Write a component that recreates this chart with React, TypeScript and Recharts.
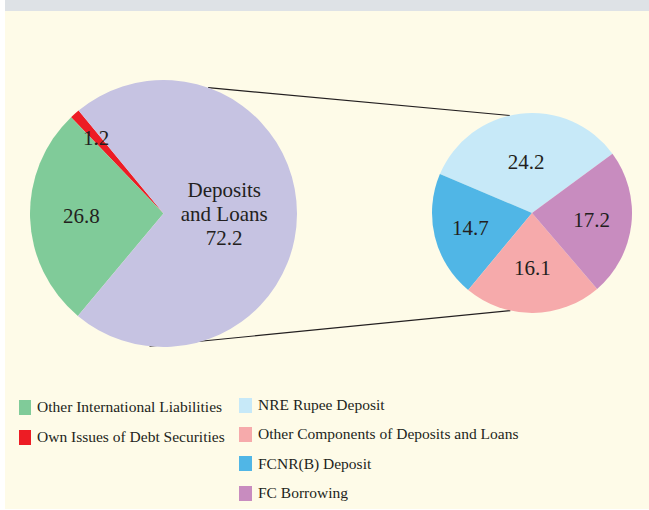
import React from 'react';
import { Cell, Legend, Pie, PieChart } from 'recharts';

// left pie: composition of international liabilities (per cent)
const liabilityNames = [
  'Own Issues of Debt Securities',
  'Other International Liabilities',
  'Deposits and Loans',
];
const liabilityValues = [1.2, 26.8, 72.2];

// right pie: break-up of deposits and loans
const depositNames = [
  'NRE Rupee Deposit',
  'FCNR(B) Deposit',
  'Other Components of Deposits and Loans',
  'FC Borrowing',
];
const depositValues = [24.2, 14.7, 16.1, 17.2];

const leftLegendOrder = ['Other International Liabilities', 'Own Issues of Debt Securities'];
const rightLegendOrder = [
  'NRE Rupee Deposit',
  'Other Components of Deposits and Loans',
  'FCNR(B) Deposit',
  'FC Borrowing',
];

const FONT = '"Liberation Serif", "Times New Roman", serif';
const INK = '#231f20';

const liabilityColors = ['#ed1c24', '#80cb99', '#c6c3e2'];
const depositColors = ['#c7e9f8', '#50b6e6', '#f6aaab', '#c88cbf'];

const colorOf = (name: string) => {
  const i = liabilityNames.indexOf(name);
  if (i >= 0) return liabilityColors[i];
  return depositColors[depositNames.indexOf(name)];
};

const LEFT = { cx: 163.5, cy: 213.5, r: 133.5 };
const RIGHT = { cx: 532, cy: 213, r: 100 };
const RAD = Math.PI / 180;

const liabilityData = liabilityNames.map((name, i) => ({ name, value: liabilityValues[i] }));
const depositData = depositNames.map((name, i) => ({ name, value: depositValues[i] }));

// how far out (fraction of radius) each label sits
const liabilityLabelR = [0.76, 0.615, 0.455];
const depositLabelR = [0.51, 0.635, 0.55, 0.6];

const polar = (c: { cx: number; cy: number; r: number }, angle: number) => ({
  x: c.cx + c.r * Math.cos(-angle * RAD),
  y: c.cy + c.r * Math.sin(-angle * RAD),
});

const makeLabel = (factors: number[]) => (props: any) => {
  const { cx, cy, midAngle, outerRadius, index, name, value } = props;
  const r = outerRadius * factors[index];
  const x = cx + r * Math.cos(-midAngle * RAD);
  const y = cy + r * Math.sin(-midAngle * RAD);
  const common = {
    x,
    fill: INK,
    fontFamily: FONT,
    fontSize: 21,
    textAnchor: 'middle' as const,
    dominantBaseline: 'central' as const,
  };
  if (name === 'Deposits and Loans') {
    return (
      <text {...common} y={y - 24}>
        <tspan x={x} dy={0}>Deposits</tspan>
        <tspan x={x} dy={24}>and Loans</tspan>
        <tspan x={x} dy={24}>{value}</tspan>
      </text>
    );
  }
  return (
    <text {...common} y={y}>
      {value}
    </text>
  );
};

const LegendRow = ({ name, h, sw }: { name: string; h: number; sw: number }) => (
  <div style={{ display: 'flex', alignItems: 'center', height: h }}>
    <span style={{ width: sw, height: 15, background: colorOf(name), marginRight: 6, flex: 'none' }} />
    <span style={{ fontFamily: FONT, fontSize: 15.5, color: INK, whiteSpace: 'nowrap' }}>{name}</span>
  </div>
);

const renderLegend = () => (
  <div style={{ position: 'relative', width: 649, height: 510 }}>
    <div style={{ position: 'absolute', left: 19, top: 392 }}>
      {leftLegendOrder.map((n) => (
        <LegendRow key={n} name={n} h={30} sw={12} />
      ))}
    </div>
    <div style={{ position: 'absolute', left: 239, top: 390.5 }}>
      {rightLegendOrder.map((n) => (
        <LegendRow key={n} name={n} h={29.3} sw={13} />
      ))}
    </div>
  </div>
);

export default function App() {
  const topA = polar(LEFT, 70.5);
  const topB = polar(RIGHT, 102.8);
  const botA = polar(LEFT, 264);
  const botB = polar(RIGHT, 257.5);

  return (
    <div style={{ position: 'absolute', left: 0, top: 0, width: 649, height: 510, background: '#fff' }}>
      <div style={{ position: 'absolute', left: 5, top: 0, width: 644, height: 11, background: '#dee2e6' }} />
      <div style={{ position: 'absolute', left: 5, top: 11, width: 644, height: 498, background: '#fefbe8' }} />
      <svg width={649} height={510} style={{ position: 'absolute', left: 0, top: 0 }}>
        <line x1={topA.x} y1={topA.y} x2={topB.x} y2={topB.y} stroke={INK} strokeWidth={1.2} />
        <line x1={botA.x} y1={botA.y} x2={botB.x} y2={botB.y} stroke={INK} strokeWidth={1.2} />
      </svg>
      <div style={{ position: 'absolute', left: 0, top: 0 }}>
        <PieChart width={649} height={510} margin={{ top: 0, right: 0, bottom: 0, left: 0 }}>
          <Pie
            data={liabilityData}
            dataKey="value"
            nameKey="name"
            cx={LEFT.cx}
            cy={LEFT.cy}
            outerRadius={LEFT.r}
            startAngle={129.5}
            endAngle={489.5}
            stroke="none"
            label={makeLabel(liabilityLabelR)}
            labelLine={false}
            isAnimationActive={false}
          >
            {liabilityData.map((d, i) => (
              <Cell key={d.name} fill={liabilityColors[i]} />
            ))}
          </Pie>
          <Pie
            data={depositData}
            dataKey="value"
            nameKey="name"
            cx={RIGHT.cx}
            cy={RIGHT.cy}
            outerRadius={RIGHT.r}
            startAngle={36.4}
            endAngle={396.4}
            stroke="none"
            label={makeLabel(depositLabelR)}
            labelLine={false}
            isAnimationActive={false}
          >
            {depositData.map((d, i) => (
              <Cell key={d.name} fill={depositColors[i]} />
            ))}
          </Pie>
          <Legend
            content={renderLegend}
            wrapperStyle={{ position: 'absolute', left: 0, top: 0, width: 649, height: 510 }}
          />
        </PieChart>
      </div>
    </div>
  );
}
